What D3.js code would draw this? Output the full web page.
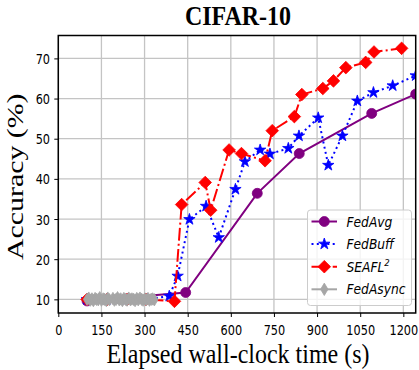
<!DOCTYPE html>
<html>
<head>
<meta charset="utf-8">
<script src="https://cdn.jsdelivr.net/npm/d3@7"></script>
<style>
  html, body { margin: 0; padding: 0; background: #fff; }
  svg { display: block; }
</style>
</head>
<body>
<div id="chart"></div>
<script>
// ---------------- DATA ----------------
const xTicks = [0, 150, 300, 450, 600, 750, 900, 1050, 1200];
const yTicks = [10, 20, 30, 40, 50, 60, 70];

const fedAvgTime = [100, 443, 692, 838, 1090, 1243];
const fedAvgAcc  = [9.6, 11.7, 36.4, 46.3, 56.3, 61.1];

const fedBuffTime = [100, 170, 240, 310, 386, 415, 456, 514, 558, 616, 649, 702, 736, 800, 837, 904, 939, 988, 1040, 1096, 1163, 1243];
const fedBuffAcc  = [10.0, 10.0, 10.0, 10.0, 10.8, 15.8, 29.9, 33.2, 25.4, 37.4, 44.3, 47.2, 46.2, 47.6, 50.7, 55.2, 43.4, 50.7, 59.4, 61.5, 63.2, 65.7];

const seaflTime = [100, 170, 240, 305, 404, 429, 511, 530, 594, 637, 719, 744, 821, 847, 920, 957, 1000, 1069, 1098, 1194];
const seaflAcc  = [10.0, 10.0, 10.0, 10.0, 9.5, 33.6, 39.1, 32.2, 47.2, 46.3, 44.5, 52.0, 55.5, 61.0, 62.5, 64.4, 67.7, 69.0, 71.6, 72.5];

const fedAsyncTime = [100, 106, 111, 117, 122, 128, 133, 139, 144, 150, 156, 161, 167, 172, 178,
                      190, 195, 201, 206, 212, 217, 223, 228, 234, 239, 245, 251, 256, 262, 267,
                      273, 278, 284, 290, 295, 301, 306, 312, 317, 323, 328, 334];
const fedAsyncAcc  = [10.0, 10.3, 9.8, 10.1, 9.7, 10.2, 10.0, 9.9, 10.4, 9.8, 10.1, 10.0, 9.7, 10.3, 9.9,
                      10.2, 9.8, 10.0, 10.4, 9.9, 10.1, 9.7, 10.2, 10.0, 9.8, 10.3, 9.9, 10.1, 10.0, 9.7,
                      10.2, 9.9, 10.3, 10.0, 9.8, 10.1, 9.9, 10.2, 9.8, 10.0, 10.1, 9.9];

const seriesNames = ["FedAvg", "FedBuff", "SEAFL", "FedAsync"];
const seriesColors = ["#800080", "#0000ff", "#ff0000", "#a6a6a6"];

// ---------------- LAYOUT ----------------
const W = 419, H = 370;
const L = 58.3, R = 415.7, T = 35.5, B = 313;

const svg = d3.select("#chart").append("svg").attr("width", W).attr("height", H);

const x = d3.scaleLinear().domain([0, 1243]).range([L, R]);
const y = d3.scaleLinear().domain([6.6, 75.7]).range([B, T]);

svg.append("defs").append("clipPath").attr("id", "clip")
  .append("rect").attr("x", L).attr("y", T).attr("width", R - L).attr("height", B - T);

// grid
const grid = svg.append("g");
grid.selectAll("line.gx").data(xTicks).enter().append("line")
  .attr("x1", d => x(d)).attr("x2", d => x(d)).attr("y1", T).attr("y2", B)
  .attr("stroke", "#c4c4c4").attr("stroke-width", 1.3);
grid.selectAll("line.gy").data(yTicks).enter().append("line")
  .attr("x1", L).attr("x2", R).attr("y1", d => y(d)).attr("y2", d => y(d))
  .attr("stroke", "#c4c4c4").attr("stroke-width", 1.3);

// axes (tick marks via d3 axes, labels placed with a vertical stretch)
const xAxis = svg.append("g").attr("transform", `translate(0,${B})`)
  .call(d3.axisBottom(x).tickValues(xTicks).tickSize(4).tickFormat(d3.format("d")));
const yAxis = svg.append("g").attr("transform", `translate(${L},0)`)
  .call(d3.axisLeft(y).tickValues(yTicks).tickSize(4).tickFormat(d3.format("d")));
[xAxis, yAxis].forEach(a => {
  a.select(".domain").remove();
  a.selectAll("line").attr("stroke", "#000").attr("stroke-width", 1);
});
xAxis.selectAll(".tick text")
  .attr("y", 0).attr("dy", null)
  .attr("transform", "translate(0,21.7) scale(1,1.2)")
  .attr("font-family", "DejaVu Sans").attr("font-size", 11.3).attr("fill", "#000");
yAxis.selectAll(".tick text")
  .attr("x", 0).attr("dy", null)
  .attr("transform", "translate(-8.3,5) scale(1,1.2)")
  .attr("font-family", "DejaVu Sans").attr("font-size", 11.3).attr("fill", "#000");

// markers
function starPath(R0) {
  const r = R0 * 0.382;
  let p = "";
  for (let i = 0; i < 10; i++) {
    const rad = i % 2 === 0 ? R0 : r;
    const a = -Math.PI / 2 + i * Math.PI / 5;
    p += (i === 0 ? "M" : "L") + (rad * Math.cos(a)).toFixed(2) + "," + (rad * Math.sin(a)).toFixed(2);
  }
  return p + "Z";
}
const markerPaths = {
  circle: d3.symbol().type(d3.symbolCircle).size(Math.PI * 25)(),
  star: starPath(6),
  diamond: "M0,-6.3L6.3,0L0,6.3L-6.3,0Z",
  thin: "M0,-6.2L3.7,0L0,6.2L-3.7,0Z"
};

const series = [
  { name: seriesNames[0], t: fedAvgTime, v: fedAvgAcc, color: seriesColors[0], dash: null, marker: "circle" },
  { name: seriesNames[1], t: fedBuffTime, v: fedBuffAcc, color: seriesColors[1], dash: "2,3.3", marker: "star" },
  { name: seriesNames[2], t: seaflTime, v: seaflAcc, color: seriesColors[2], dash: "12.8,3.2,2,3.2", marker: "diamond" },
  { name: seriesNames[3], t: fedAsyncTime, v: fedAsyncAcc, color: seriesColors[3], dash: null, marker: "thin" }
];

const plot = svg.append("g").attr("clip-path", "url(#clip)");
const line = d3.line().x(d => x(d[0])).y(d => y(d[1]));

series.forEach(s => {
  const pts = s.t.map((t, i) => [t, s.v[i]]);
  const g = plot.append("g");
  g.append("path").datum(pts).attr("d", line)
    .attr("fill", "none").attr("stroke", s.color).attr("stroke-width", 2)
    .attr("stroke-dasharray", s.dash);
  g.selectAll("path.m").data(pts).enter().append("path")
    .attr("d", markerPaths[s.marker])
    .attr("transform", d => `translate(${x(d[0])},${y(d[1])})`)
    .attr("fill", s.color).attr("stroke", s.color).attr("stroke-width", 0.8);
});

// spines
svg.append("rect").attr("x", L).attr("y", T).attr("width", R - L).attr("height", B - T)
  .attr("fill", "none").attr("stroke", "#000").attr("stroke-width", 1.5);

// legend
const lg = svg.append("g");
lg.append("rect").attr("x", 307.5).attr("y", 210).attr("width", 104).attr("height", 95.5)
  .attr("rx", 3).attr("fill", "#fff").attr("fill-opacity", 0.8)
  .attr("stroke", "#cccccc").attr("stroke-width", 1);
const legY = [221.5, 244, 266.7, 289.3];
series.forEach((s, i) => {
  const yy = legY[i];
  lg.append("line").attr("x1", 311.5).attr("x2", 337).attr("y1", yy).attr("y2", yy)
    .attr("stroke", s.color).attr("stroke-width", 2).attr("stroke-dasharray", s.dash);
  lg.append("path").attr("d", markerPaths[s.marker])
    .attr("transform", `translate(324.3,${yy})`)
    .attr("fill", s.color).attr("stroke", s.color).attr("stroke-width", 0.8);
  const tx = lg.append("text")
    .attr("transform", `translate(346.5,${yy + 5}) scale(1,1.1)`)
    .attr("font-family", "DejaVu Sans").attr("font-style", "italic").attr("font-size", 12.3)
    .attr("fill", "#000").text(s.name);
  if (s.name === "SEAFL") {
    tx.append("tspan").attr("font-size", 8.5).attr("dy", -5).text("2");
  }
});

// titles
svg.append("text").attr("transform", "translate(238,25.3) scale(1,1.1)").attr("text-anchor", "middle")
  .attr("font-family", "Liberation Serif").attr("font-weight", "bold").attr("font-size", 24)
  .text("CIFAR-10");
svg.append("text").attr("transform", "translate(238,362.5) scale(1,1.12)").attr("text-anchor", "middle")
  .attr("font-family", "Liberation Serif").attr("font-size", 24)
  .text("Elapsed wall-clock time (s)");
svg.append("text").attr("transform", "translate(23.3,176.7) rotate(-90) scale(1.27,1)").attr("text-anchor", "middle")
  .attr("font-family", "Liberation Serif").attr("font-size", 23.5)
  .text("Accuracy (%)");
</script>
</body>
</html>
